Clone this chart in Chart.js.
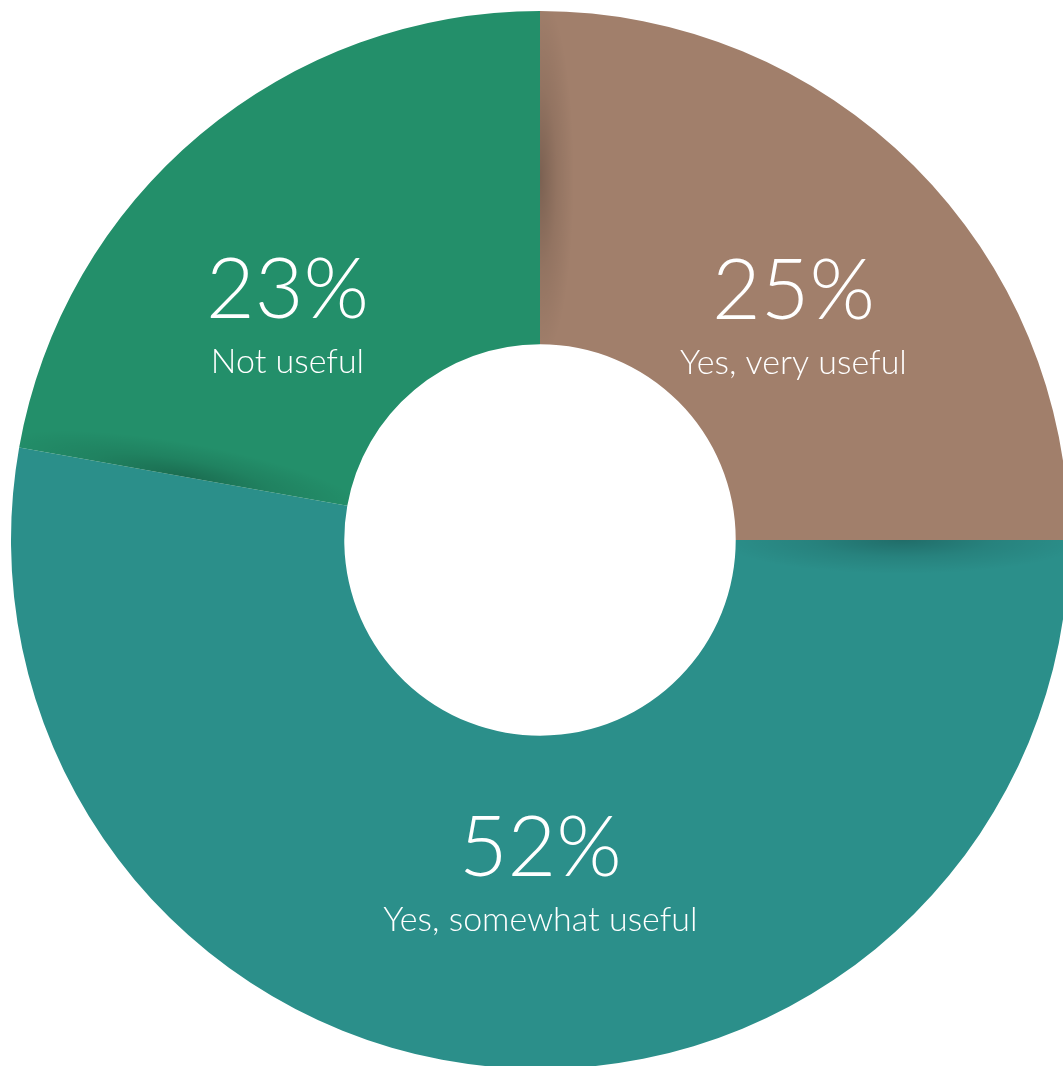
<!DOCTYPE html>
<html>
<head>
<meta charset="utf-8">
<script src="https://cdn.jsdelivr.net/npm/chart.js@4/dist/chart.umd.min.js"></script>
<style>
  html, body { margin: 0; padding: 0; background: #ffffff; overflow: hidden; }
  #wrap { position: absolute; left: 0; top: 0; width: 1080px; height: 1080px; }
</style>
</head>
<body>
<div id="wrap"><canvas id="c" width="1080" height="1080"></canvas></div>
<script>
const categories = ["Yes, very useful", "Yes, somewhat useful", "Not useful"];
const values = [25, 52.8, 22.2];
const percentLabels = ["25%", "52%", "23%"];
const colors = ["#A17F6B", "#2B8F8A", "#238F6A"];

const sliceDecor = {
  id: 'sliceDecor',
  afterDatasetsDraw(chart, args, opts) {
    const ctx = chart.ctx;
    const meta = chart.getDatasetMeta(0);
    const arcs = meta.data.map(a => a.getProps(['x','y','startAngle','endAngle','innerRadius','outerRadius'], true));
    // soft shadow cast onto each slice along its starting edge
    arcs.forEach((p) => {
      ctx.save();
      ctx.beginPath();
      ctx.arc(p.x, p.y, p.outerRadius, p.startAngle, p.endAngle);
      ctx.arc(p.x, p.y, p.innerRadius, p.endAngle, p.startAngle, true);
      ctx.closePath();
      ctx.clip();
      const rm = (p.innerRadius + p.outerRadius) / 2;
      const cx = p.x + Math.cos(p.startAngle) * rm;
      const cy = p.y + Math.sin(p.startAngle) * rm;
      ctx.translate(cx, cy);
      ctx.rotate(p.startAngle);
      ctx.scale((p.outerRadius - p.innerRadius) * 0.55, opts.shadowWidth);
      const g = ctx.createRadialGradient(0, 0, 0, 0, 0, 1);
      g.addColorStop(0, 'rgba(0,0,0,0.24)');
      g.addColorStop(0.5, 'rgba(0,0,0,0.09)');
      g.addColorStop(1, 'rgba(0,0,0,0)');
      ctx.fillStyle = g;
      ctx.beginPath();
      ctx.arc(0, 0, 1, 0, Math.PI * 2);
      ctx.fill();
      ctx.restore();
    });
    // labels
    arcs.forEach((p, i) => {
      const mid = (p.startAngle + p.endAngle) / 2 + opts.angleNudge[i] * Math.PI / 180;
      const r = (p.innerRadius + p.outerRadius) / 2 - 26;
      const x = p.x + Math.cos(mid) * r;
      const y = p.y + Math.sin(mid) * r;
      ctx.save();
      ctx.fillStyle = '#ffffff';
      ctx.textAlign = 'center';
      ctx.textBaseline = 'alphabetic';
      ctx.font = '300 84px Lato, "Open Sans", sans-serif';
      ctx.fillText(percentLabels[i], x, y);
      ctx.font = '300 34px Lato, "Open Sans", sans-serif';
      ctx.fillText(categories[i], x, y + 55);
      ctx.restore();
    });
  }
};

new Chart(document.getElementById('c'), {
  type: 'doughnut',
  data: {
    labels: categories,
    datasets: [{
      data: values,
      backgroundColor: colors,
      borderWidth: 0,
      hoverOffset: 0
    }]
  },
  options: {
    responsive: false,
    animation: false,
    cutout: '37%',
    rotation: 0,
    layout: { padding: 11 },
    plugins: {
      legend: { display: false },
      tooltip: { enabled: false },
      sliceDecor: { shadowWidth: 34, angleNudge: [3.9, -5.1, -8.7] }
    },
    events: []
  },
  plugins: [sliceDecor]
});
</script>
</body>
</html>
